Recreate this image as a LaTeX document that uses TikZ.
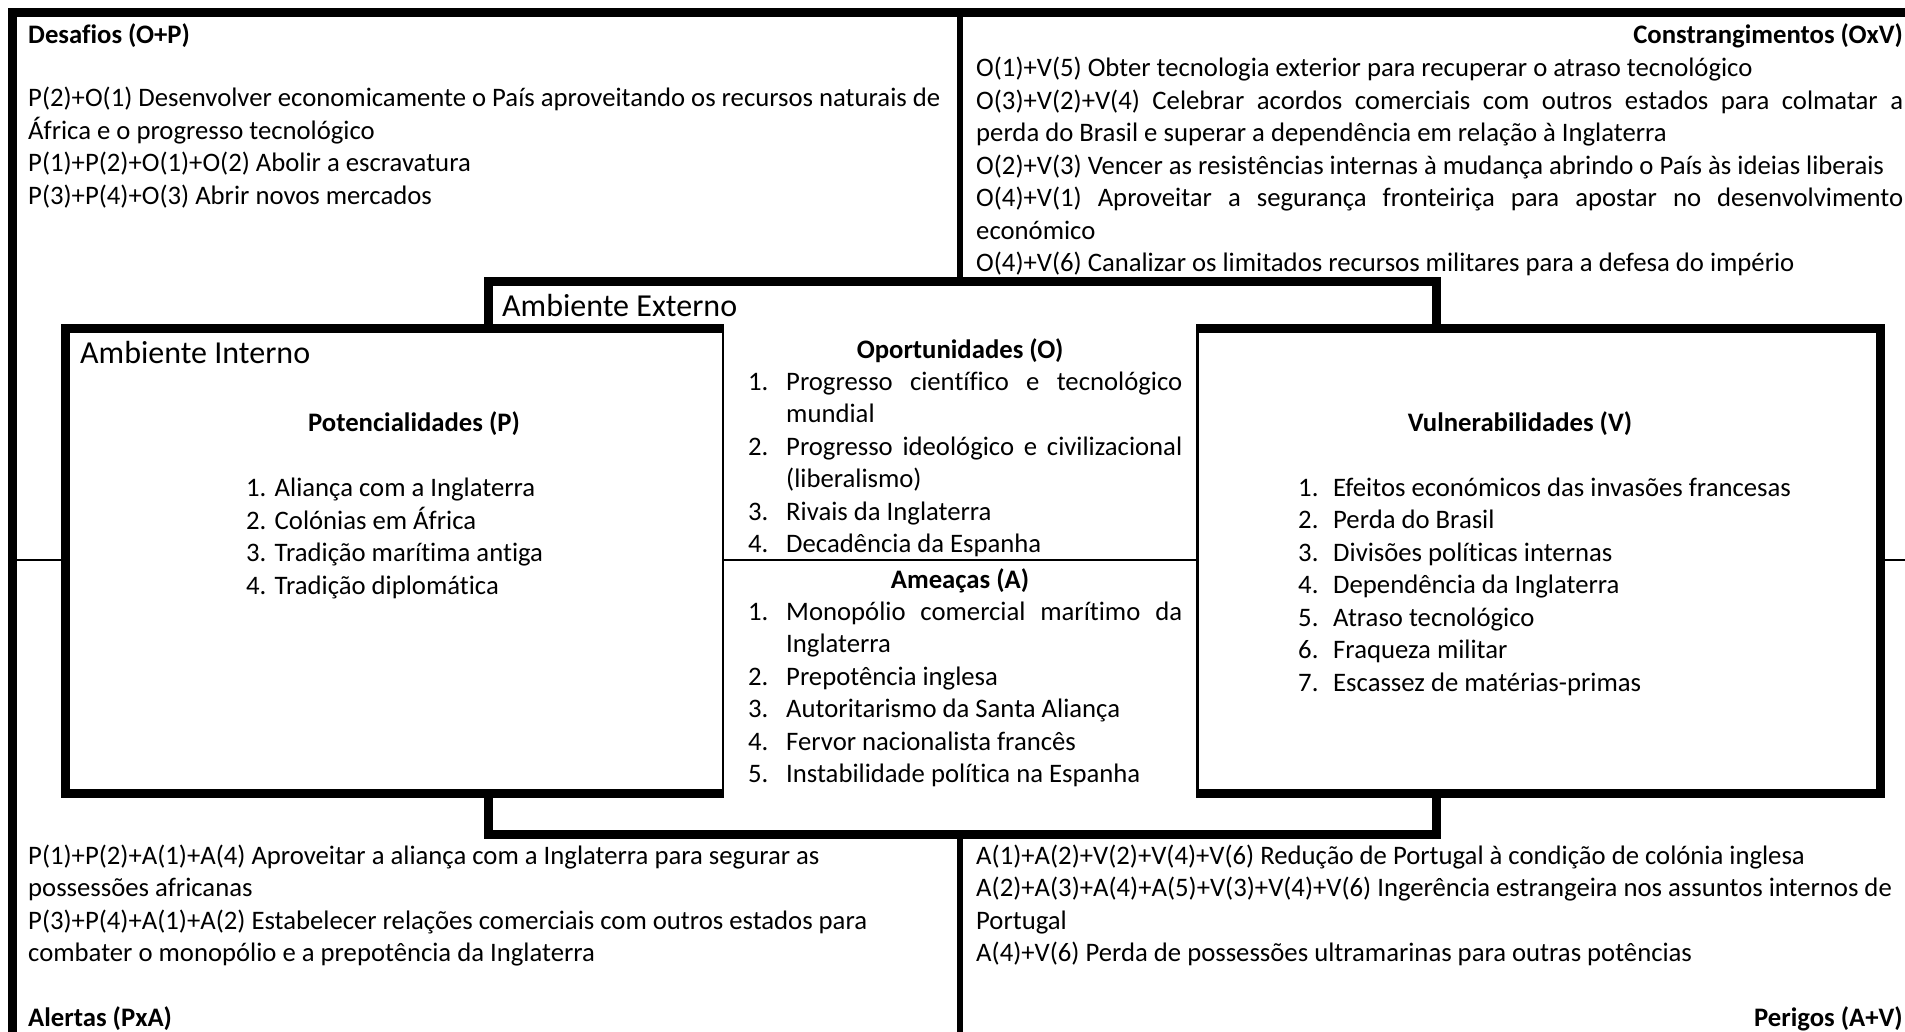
\documentclass[tikz,border=0pt]{standalone}
\usepackage{fontspec}
\setmainfont{Carlito}[Ligatures=CommonOff]
\newcommand\bodyfont{\fontsize{26.7}{32.5}\selectfont}
\newcommand\bigfont{\fontsize{32}{38}\selectfont}
\begin{document}
\begin{tikzpicture}[x=1pt,y=-1pt,
  bord/.style={line width=9pt},
  thinline/.style={line width=1.5pt},
  txt/.style={anchor=base west,inner sep=0pt,font=\bodyfont},
  txtr/.style={anchor=base east,inner sep=0pt,font=\bodyfont},
  txtc/.style={anchor=base,inner sep=0pt,font=\bodyfont},
  big/.style={anchor=base west,inner sep=0pt,font=\bigfont}]
\useasboundingbox (0,0) rectangle (1905,1032);
\fill[white] (0,0) rectangle (1905,1032);
% frame
\draw[line width=6pt] (960,12.5) -- (960,1040);
\draw[bord] (12.5,1040) -- (12.5,12.5) -- (1910,12.5);
% Ambiente Externo box
\fill[white] (488.5,281.5) rectangle (1436.5,834.5);
\draw[bord] (488.5,281.5) rectangle (1436.5,834.5);
\draw[thinline] (12.5,560) -- (1910,560);
% Ambiente Interno box
\fill[white] (65.5,328) rectangle (723,793);
\draw[bord] (724,328) -- (65.5,328) -- (65.5,793) -- (724,793);
\draw[line width=2pt] (723,328) -- (723,793);
% Vulnerabilidades box
\fill[white] (1197.5,328) rectangle (1880.5,793);
\draw[bord] (1196,328) -- (1880.5,328) -- (1880.5,793) -- (1196,793);
\draw[line width=3pt] (1197.5,328) -- (1197.5,793);

% Top-left: Desafios
\node[txt] (tl0) at (28,44) {\bfseries Desafios (O+P)};
\node[txt] (tl1) at (28,107) {\makebox[912pt][s]{P(2)+O(1) Desenvolver economicamente o País aproveitando os recursos naturais de}};
\node[txt] (tl2) at (28,139.5) {África e o progresso tecnológico};
\node[txt] (tl3) at (28,172) {P(1)+P(2)+O(1)+O(2) Abolir a escravatura};
\node[txt] (tl4) at (28,204.5) {P(3)+P(4)+O(3) Abrir novos mercados};

% Top-right: Constrangimentos
\node[txtr] (tr0) at (1903,44) {\bfseries Constrangimentos (OxV)};
\node[txt] (tr1) at (976,77) {O(1)+V(5) Obter tecnologia exterior para recuperar o atraso tecnológico};
\node[txt] (tr2) at (976,109.5) {\makebox[927pt][s]{O(3)+V(2)+V(4) Celebrar acordos comerciais com outros estados para colmatar a}};
\node[txt] (tr3) at (976,142) {perda do Brasil e superar a dependência em relação à Inglaterra};
\node[txt] (tr4) at (976,174.5) {O(2)+V(3) Vencer as resistências internas à mudança abrindo o País às ideias liberais};
\node[txt] (tr5) at (976,207) {\makebox[927pt][s]{O(4)+V(1) Aproveitar a segurança fronteiriça para apostar no desenvolvimento}};
\node[txt] (tr6) at (976,239.5) {económico};
\node[txt] (tr7) at (976,272) {O(4)+V(6) Canalizar os limitados recursos militares para a defesa do império};

% Bottom-left: Alertas
\node[txt] (bl1) at (28,864) {P(1)+P(2)+A(1)+A(4) Aproveitar a aliança com a Inglaterra para segurar as};
\node[txt] (bl2) at (28,896.5) {possessões africanas};
\node[txt] (bl3) at (28,929) {P(3)+P(4)+A(1)+A(2) Estabelecer relações comerciais com outros estados para};
\node[txt] (bl4) at (28,961.5) {combater o monopólio e a prepotência da Inglaterra};
\node[txt] (bl0) at (28,1026.5) {\bfseries Alertas (PxA)};

% Bottom-right: Perigos
\node[txt] (br1) at (976,864) {A(1)+A(2)+V(2)+V(4)+V(6) Redução de Portugal à condição de colónia inglesa};
\node[txt] (br2) at (976,896.5) {A(2)+A(3)+A(4)+A(5)+V(3)+V(4)+V(6) Ingerência estrangeira nos assuntos internos de};
\node[txt] (br3) at (976,929) {Portugal};
\node[txt] (br4) at (976,961.5) {A(4)+V(6) Perda de possessões ultramarinas para outras potências};
\node[txtr] (br0) at (1903,1026.5) {\bfseries Perigos (A+V)};

% Box titles
\node[big] (ae) at (502,316) {Ambiente Externo};
\node[big] (ai) at (80,363.5) {Ambiente Interno};

% Potencialidades
\node[txtc] (ph) at (414,431) {\bfseries Potencialidades (P)};
\foreach \n/\y/\t in {1/496.5/Aliança com a Inglaterra,2/529/Colónias em África,3/561.5/Tradição marítima antiga,4/594/Tradição diplomática}{
  \node[txt] (pn\n) at (246,\y) {\n.};
  \node[txt] (p\n) at (274.5,\y) {\t};
}

% Vulnerabilidades
\node[txtc] (vh) at (1520,431) {\bfseries Vulnerabilidades (V)};
\foreach \n/\y/\t in {1/496/Efeitos económicos das invasões francesas,2/528.5/Perda do Brasil,3/561/Divisões políticas internas,4/593.5/Dependência da Inglaterra,5/626/Atraso tecnológico,6/658.5/Fraqueza militar,7/691/Escassez de matérias-primas}{
  \node[txt] (vn\n) at (1298,\y) {\n.};
  \node[txt] (v\n) at (1333,\y) {\t};
}

% Oportunidades
\node[txtc] (oh) at (960,358) {\bfseries Oportunidades (O)};
\node[txt] (on1) at (748,390) {1.};
\node[txt] (o1a) at (786,390) {\makebox[396pt][s]{Progresso científico e tecnológico}};
\node[txt] (o1b) at (786,422.5) {mundial};
\node[txt] (on2) at (748,455) {2.};
\node[txt] (o2a) at (786,455) {\makebox[396pt][s]{Progresso ideológico e civilizacional}};
\node[txt] (o2b) at (786,487.5) {(liberalismo)};
\node[txt] (on3) at (748,520) {3.};
\node[txt] (o3) at (786,520) {Rivais da Inglaterra};
\node[txt] (on4) at (748,552.5) {4.};
\node[txt] (o4) at (786,552.5) {Decadência da Espanha};

% Ameacas
\node[txtc] (ah) at (960,588) {\bfseries Ameaças (A)};
\node[txt] (an1) at (748,620) {1.};
\node[txt] (a1a) at (786,620) {\makebox[396pt][s]{Monopólio comercial marítimo da}};
\node[txt] (a1b) at (786,652.5) {Inglaterra};
\node[txt] (an2) at (748,685) {2.};
\node[txt] (a2) at (786,685) {Prepotência inglesa};
\node[txt] (an3) at (748,717.5) {3.};
\node[txt] (a3) at (786,717.5) {Autoritarismo da Santa Aliança};
\node[txt] (an4) at (748,750) {4.};
\node[txt] (a4) at (786,750) {Fervor nacionalista francês};
\node[txt] (an5) at (748,782) {5.};
\node[txt] (a5) at (786,782) {Instabilidade política na Espanha};
\end{tikzpicture}
\end{document}
